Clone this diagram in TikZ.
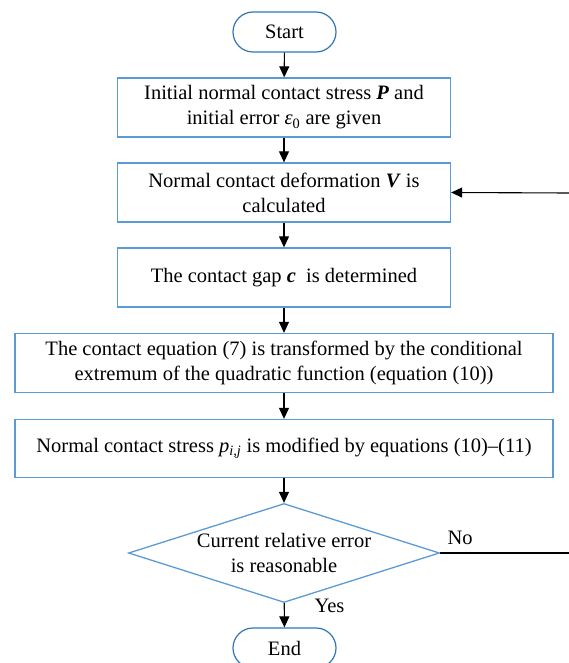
\documentclass[tikz,border=0pt]{standalone}
\usepackage{fontspec}
\setmainfont{Liberation Serif}
\usetikzlibrary{arrows.meta,shapes.geometric}
\definecolor{boxblue}{HTML}{5B9BD5}
\definecolor{termblue}{HTML}{2E75B6}
\begin{document}
\begin{tikzpicture}[x=1pt,y=-1pt,
  every node/.style={font=\fontsize{20.5}{25}\selectfont, align=center},
  procbox/.style={draw=boxblue, line width=1.3pt, minimum height=59pt, inner sep=0pt},
  termbox/.style={draw=termblue, line width=1.2pt, rounded corners=20pt, minimum width=103pt, minimum height=40pt, inner sep=0pt},
  flow/.style={line width=1.1pt, -{Triangle[length=11pt,width=10pt]}},
  plain/.style={line width=1.2pt}]
\useasboundingbox (0,0) rectangle (569,663);
\clip (0,0) rectangle (569,663);
\node[termbox] (start) at (284.5,32) {Start};
\node[procbox, minimum width=333pt] (b1) at (284,107.5) {Initial normal contact stress \textbf{\textit{P}} and\\initial error \textit{ε}\textsubscript{0} are given};
\node[procbox, minimum width=333pt] (b2) at (284,192.5) {Normal contact deformation \textbf{\textit{V}} is\\calculated};
\node[procbox, minimum width=333pt] (b3) at (284,277.5) {The contact gap \textbf{\textit{c}}\ \ is determined};
\node[procbox, minimum width=538pt] (b4) at (284,363) {The contact equation (7) is transformed by the conditional\\extremum of the quadratic function (equation (10))};
\node[procbox, minimum width=538pt, minimum height=58pt] (b5) at (284,448.5) {Normal contact stress \textit{p}\textsubscript{\textit{i,j}} is modified by equations (10)–(11)};
\node[diamond, draw=boxblue, line width=1.3pt, minimum width=311pt, minimum height=99pt, inner sep=0pt] (dec) at (284,553) {};
\node (dectext) at (284,553) {Current relative error\\is reasonable};
\node[termbox] (end) at (284.5,648) {End};
\node[anchor=west] (no) at (444,538) {No};
\node[anchor=west] (yes) at (311,606) {Yes};
\coordinate (fbin) at (569,193);
\coordinate (fbout) at (569,553);
\draw[flow] (start) -- (b1);
\draw[flow] (b1) -- (b2);
\draw[flow] (b2) -- (b3);
\draw[flow] (b3) -- (b4);
\draw[flow] (b4) -- (b5);
\draw[flow] (b5) -- (dec);
\draw[flow] (dec) -- (end);
\draw[plain] (dec.east) -- (fbout);
\draw[flow] (fbin) -- (b2.east);
\end{tikzpicture}
\end{document}
